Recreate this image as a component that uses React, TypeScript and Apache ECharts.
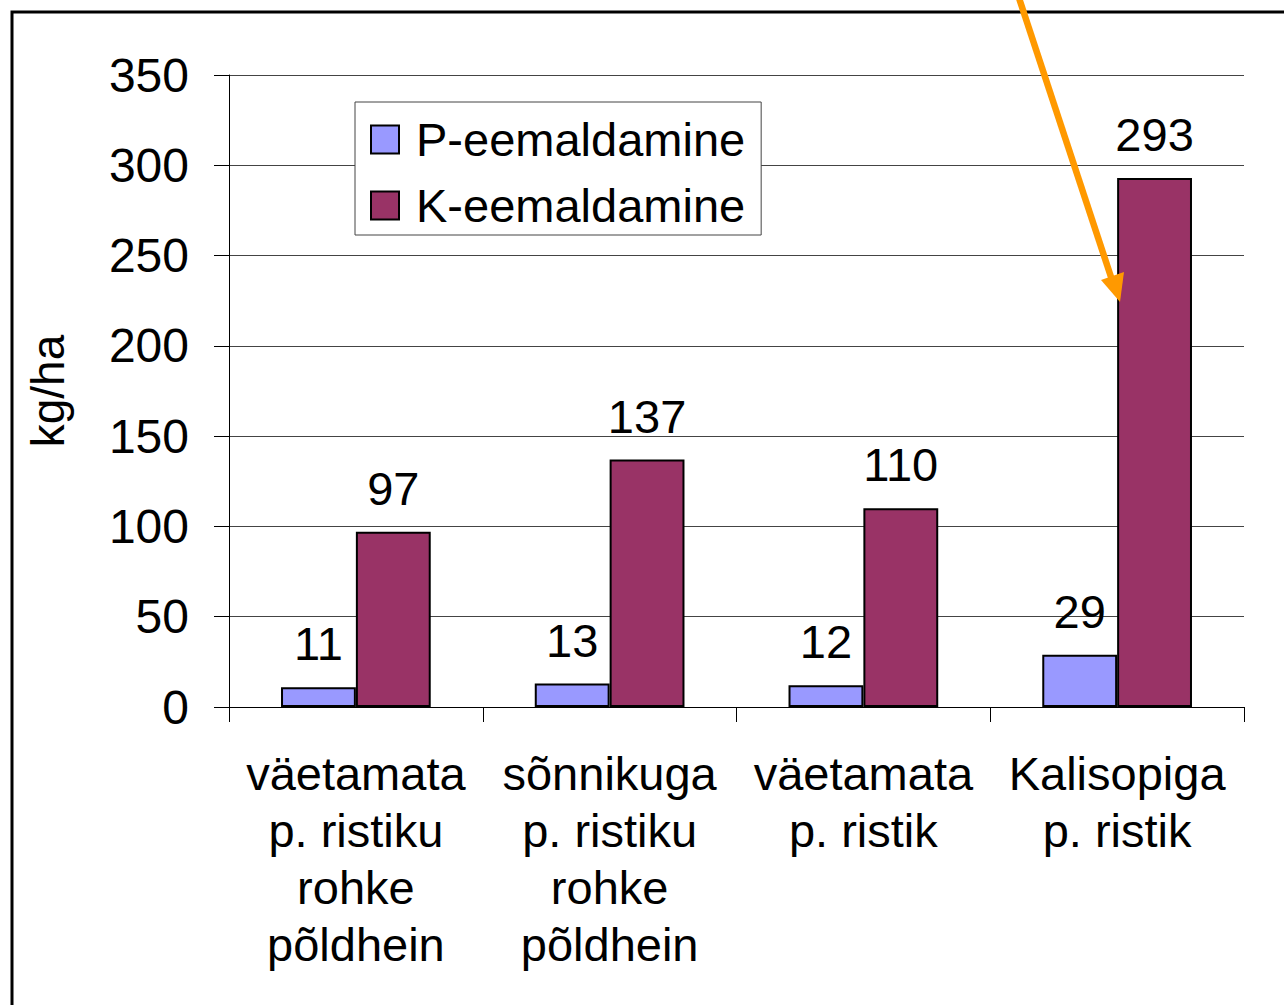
import React, { useEffect, useRef } from "react";
import * as echarts from "echarts";

const categories = [
  "väetamata\np. ristiku\nrohke\npõldhein",
  "sõnnikuga\np. ristiku\nrohke\npõldhein",
  "väetamata\np. ristik",
  "Kalisopiga\np. ristik",
];
const pValues = [11, 13, 12, 29];
const kValues = [97, 137, 110, 293];
const seriesNames = ["P-eemaldamine", "K-eemaldamine"];
const yName = "kg/ha";

const FONT = "'Liberation Sans', Arial, Helvetica, sans-serif";

export default function App() {
  const ref = useRef<HTMLDivElement>(null);
  useEffect(() => {
    if (!ref.current) return;
    const chart = echarts.init(ref.current, undefined, { renderer: "svg" });
    const label = {
      show: true,
      position: "top",
      distance: 20,
      fontSize: 47,
      fontFamily: FONT,
      color: "#000",
    };
    chart.setOption({
      animation: false,
      backgroundColor: "#fff",
      textStyle: { fontFamily: FONT },
      grid: { left: 229, top: 75, right: 40, bottom: 298 },
      legend: {
        data: seriesNames,
        orient: "vertical",
        left: 355,
        top: 102,
        backgroundColor: "#fff",
        borderColor: "#444",
        borderWidth: 1,
        padding: [14, 16, 6, 15],
        itemWidth: 28,
        itemHeight: 28,
        itemGap: 19,
        icon: "rect",
        textStyle: {
          fontSize: 47,
          lineHeight: 46,
          color: "#000",
          fontFamily: FONT,
          padding: [0, 0, 0, 12],
        },
      },
      xAxis: {
        type: "category",
        data: categories,
        axisLine: { lineStyle: { color: "#000", width: 1 } },
        axisTick: { show: true, length: 15, lineStyle: { color: "#000" } },
        axisLabel: {
          fontSize: 47,
          lineHeight: 57,
          color: "#000",
          margin: 38,
          interval: 0,
          fontFamily: FONT,
        },
      },
      yAxis: {
        type: "value",
        min: 0,
        max: 350,
        interval: 50,
        name: yName,
        nameLocation: "middle",
        nameGap: 158,
        nameRotate: 90,
        nameTextStyle: { fontSize: 46, color: "#000", fontFamily: FONT },
        axisLine: { show: true, lineStyle: { color: "#000", width: 1 } },
        axisTick: { show: true, length: 15, lineStyle: { color: "#000" } },
        axisLabel: { fontSize: 48, color: "#000", margin: 40, fontFamily: FONT },
        splitLine: { show: true, lineStyle: { color: "#444", width: 1 } },
      },
      series: [
        {
          name: seriesNames[0],
          type: "bar",
          data: pValues,
          barGap: "0%",
          barCategoryGap: "41%",
          itemStyle: { color: "#9999FF", borderColor: "#000", borderWidth: 2 },
          label,
        },
        {
          name: seriesNames[1],
          type: "bar",
          data: kValues,
          barGap: "0%",
          barCategoryGap: "41%",
          itemStyle: { color: "#993366", borderColor: "#000", borderWidth: 2 },
          label,
        },
      ],
      graphic: [
        {
          type: "rect",
          z: -1,
          shape: { x: 12, y: 12, width: 1400, height: 1200 },
          style: { fill: "none", stroke: "#000", lineWidth: 3 },
        },
        {
          type: "line",
          z: 100,
          shape: { x1: 1018, y1: -5, x2: 1112, y2: 280 },
          style: { stroke: "#FF9900", lineWidth: 6.5 },
        },
        {
          type: "polygon",
          z: 100,
          shape: {
            points: [
              [1120, 302],
              [1101, 280],
              [1124, 272],
            ],
          },
          style: { fill: "#FF9900" },
        },
      ],
    });
    return () => chart.dispose();
  }, []);
  return (
    <div
      ref={ref}
      style={{ position: "fixed", left: 0, top: 0, width: 1284, height: 1005 }}
    />
  );
}
